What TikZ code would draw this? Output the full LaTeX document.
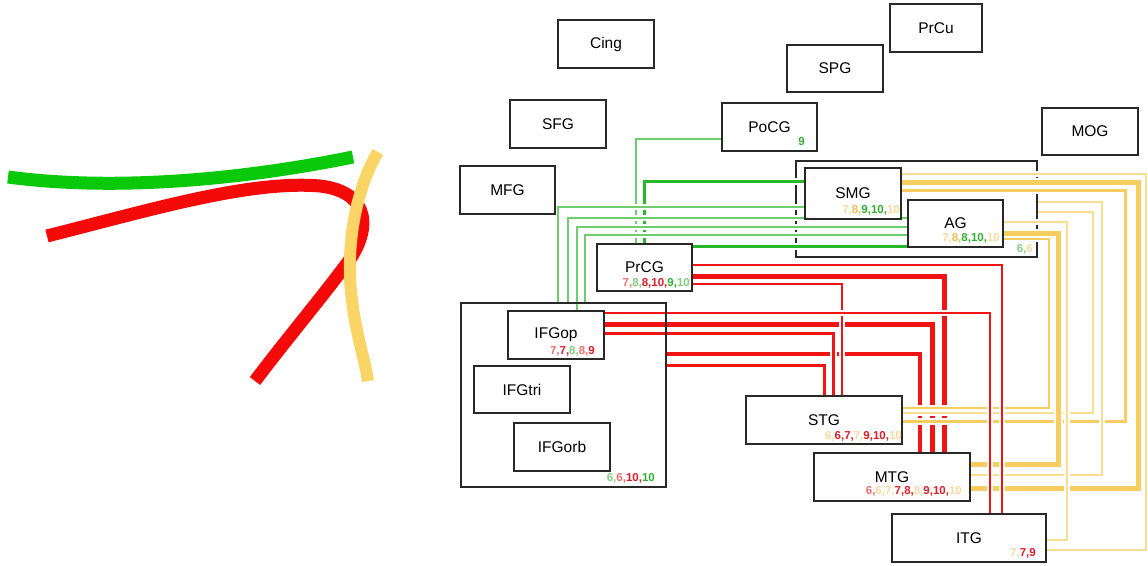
\documentclass[tikz,border=0pt]{standalone}
\usepackage{fontspec}
\setmainfont{Liberation Sans}
\definecolor{bx}{RGB}{40,40,40}
\definecolor{gT}{RGB}{40,185,40}
\definecolor{gL}{RGB}{110,205,110}
\definecolor{rL}{RGB}{240,20,20}
\definecolor{yT}{RGB}{247,205,95}
\definecolor{yL}{RGB}{249,222,145}
\definecolor{lR}{RGB}{220,30,40}
\definecolor{lRl}{RGB}{238,110,110}
\definecolor{lG}{RGB}{50,175,50}
\definecolor{lGl}{RGB}{130,205,130}
\definecolor{lY}{RGB}{240,190,90}
\definecolor{lYl}{RGB}{248,218,160}
\definecolor{cG}{RGB}{10,200,10}
\definecolor{cR}{RGB}{245,10,10}
\definecolor{cY}{RGB}{250,212,100}
\newcommand{\numc}[2]{\textcolor{#1}{#2}}
\pgfdeclarelayer{bg}
\pgfsetlayers{bg,main}
\begin{document}
\begin{tikzpicture}[x=1pt,y=-1pt,
 box/.style={draw=bx, line width=1.4pt, fill=white, inner sep=0pt, font=\fontsize{15.5}{16}\selectfont},
 grp/.style={draw=bx, line width=1.4pt, inner sep=0pt},
 lab/.style={inner sep=0pt, anchor=east, font=\fontsize{11.5}{12}\selectfont\bfseries},
 cn/.style n args={2}{draw=#1, line width=#2pt, preaction={draw=white, line width=#2pt+4pt}},
 tract/.style n args={2}{draw=#1, line width=#2pt},
]
\useasboundingbox (0,0) rectangle (1148,565);

% left tract sketch
\draw[tract={cG}{13}] (8,177) .. controls (120,192) and (250,178) .. (353,157);
\draw[tract={cR}{13}] (47,236) .. controls (150,210) and (250,180) .. (320,186) .. controls (372,192) and (372,232) .. (345,266) .. controls (318,302) and (282,345) .. (255,381);
\draw[tract={cY}{12}] (378,152) .. controls (355,190) and (345,250) .. (352,300) .. controls (356,335) and (365,360) .. (368,381);

% boxes
\node[box, minimum width=96pt, minimum height=48pt] (Cing) at (606,44) {Cing};
\node[box, minimum width=96pt, minimum height=48pt] (SFG) at (558,124) {SFG};
\node[box, minimum width=95pt, minimum height=48pt] (MFG) at (507.5,190) {MFG};
\node[box, minimum width=95pt, minimum height=48pt] (PoCG) at (769.5,127) {PoCG};
\node[box, minimum width=96pt, minimum height=47pt] (SPG) at (835,68.5) {SPG};
\node[box, minimum width=92pt, minimum height=48pt] (PrCu) at (936,28) {PrCu};
\node[box, minimum width=96pt, minimum height=47pt] (MOG) at (1090,131.5) {MOG};
\node[box, minimum width=96pt, minimum height=51pt] (SMG) at (853,193.5) {SMG};
\node[box, minimum width=95pt, minimum height=47pt] (AG) at (955.5,223.5) {AG};
\node[box, minimum width=95pt, minimum height=47pt] (PrCG) at (644.5,267.5) {PrCG};
\node[grp, minimum width=205pt, minimum height=184pt] (IFGgrp) at (563.5,395) {};
\node[box, minimum width=96pt, minimum height=48pt] (IFGop) at (556,335) {IFGop};
\node[box, minimum width=96pt, minimum height=47pt] (IFGtri) at (522,389.5) {IFGtri};
\node[box, minimum width=96pt, minimum height=48pt] (IFGorb) at (562,447) {IFGorb};
\node[box, minimum width=156pt, minimum height=48pt] (STG) at (824,420) {STG};
\node[box, minimum width=156pt, minimum height=48pt] (MTG) at (892,477) {MTG};
\node[box, minimum width=154pt, minimum height=48pt] (ITG) at (969,538) {ITG};

% labels
\node[lab] (PoCGl) at (805,142) {\numc{lG}{9}};
\node[lab] (PrCGl) at (690,283) {\numc{lRl}{7,}\numc{lGl}{8,}\numc{lR}{8,10,}\numc{lG}{9,}\numc{lGl}{10}};
\node[lab] (IFGopl) at (595,351) {\numc{lRl}{7,}\numc{lR}{7,}\numc{lGl}{8,}\numc{lRl}{8,}\numc{lR}{9}};
\node[lab] (IFGl) at (655,478) {\numc{lGl}{6,}\numc{lRl}{6,}\numc{lR}{10,}\numc{lG}{10}};
\node[lab] (SMGl) at (900,210) {\numc{lYl}{7,}\numc{lY}{8,}\numc{lG}{9,10,}\numc{lYl}{10}};
\node[lab] (AGl) at (1000,238) {\numc{lYl}{7,}\numc{lY}{8,}\numc{lG}{8,10,}\numc{lYl}{10}};
\node[lab] (SAl) at (1033,249) {\numc{lGl}{6,}\numc{lYl}{6}};
\node[lab] (STGl) at (902,436) {\numc{lYl}{6,}\numc{lR}{6,7,}\numc{lYl}{7,}\numc{lR}{9,10,}\numc{lYl}{10}};
\node[lab] (MTGl) at (962,491) {\numc{lRl}{6,}\numc{lYl}{6,7,}\numc{lR}{7,8,}\numc{lYl}{8,}\numc{lR}{9,10,}\numc{lYl}{10}};
\node[lab] (ITGl) at (1036,553) {\numc{lYl}{7,}\numc{lR}{7,9}};

\begin{pgfonlayer}{bg}
\node[grp, minimum width=241pt, minimum height=96pt] (SAgrp) at (916.5,209) {};
% green
\draw[cn={gL}{1.5}] (PoCG.west |- 0,139) -| (636,0 |- PrCG.north);
\draw[cn={gT}{3}] (SMG.west |- 0,181) -| (644,0 |- PrCG.north);
\draw[cn={gL}{1.5}] (558,0 |- IFGgrp.north) |- (SMG.west |- 0,207);
\draw[cn={gL}{1.5}] (568,0 |- IFGgrp.north) |- (AG.west |- 0,218);
\draw[cn={gL}{1.5}] (577,0 |- IFGop.north) |- (AG.west |- 0,227);
\draw[cn={gL}{1.5}] (585,0 |- IFGgrp.north) |- (AG.west |- 0,235);
\draw[cn={gT}{3}] (PrCG.east |- 0,246) -- (AG.west |- 0,246);
% red
\draw[cn={rL}{3.5}] (IFGgrp.east |- 0,354) -| (920,0 |- MTG.north);
\draw[cn={rL}{5}] (IFGop.east |- 0,324) -| (932,0 |- MTG.north);
\draw[cn={rL}{3}] (IFGgrp.east |- 0,365) -| (824,0 |- STG.north);
\draw[cn={rL}{3}] (IFGop.east |- 0,333) -| (833,0 |- STG.north);
\draw[cn={rL}{2.5}] (PrCG.east |- 0,284) -| (842,0 |- STG.north);
\draw[cn={rL}{5}] (PrCG.east |- 0,276) -| (944,0 |- MTG.north);
% yellow
\draw[cn={yT}{2.5}] (AG.east |- 0,239) -| (1049,408) -- (STG.east |- 0,408);
\draw[cn={yL}{1.5}] (SAgrp.east |- 0,212) -| (1093,413) -- (STG.east |- 0,413);
\draw[cn={yT}{3}] (SMG.east |- 0,190) -| (1125,421) -- (STG.east |- 0,421);
\draw[cn={yT}{5}] (AG.east |- 0,233) -| (1058,464) -- (MTG.east |- 0,464);
\draw[cn={yL}{1.5}] (SAgrp.east |- 0,202) -| (1102,475) -- (MTG.east |- 0,475);
\draw[cn={yT}{5}] (SMG.east |- 0,182) -| (1138,488) -- (MTG.east |- 0,488);
\draw[cn={yL}{1.5}] (AG.east |- 0,222) -| (1067,540) -- (ITG.east |- 0,540);
\draw[cn={yL}{1.5}] (SMG.east |- 0,174) -| (1146,550) -- (ITG.east |- 0,550);
% red, over yellow
\draw[cn={rL}{1.5}] (PrCG.east |- 0,265) -| (1002,0 |- ITG.north);
\draw[cn={rL}{2.5}] (IFGop.east |- 0,313) -| (990,0 |- ITG.north);
\end{pgfonlayer}
\end{tikzpicture}
\end{document}
